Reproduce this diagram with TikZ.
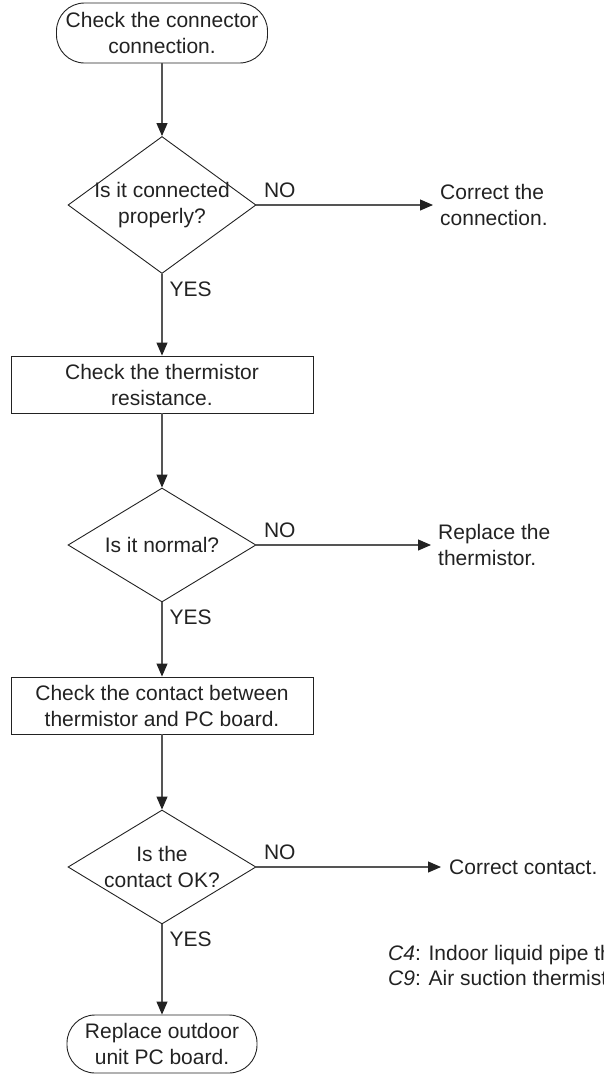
\documentclass[tikz,border=0pt]{standalone}
\usepackage{fontspec}
\setmainfont{Liberation Sans}
\usetikzlibrary{shapes.geometric,arrows.meta}
\definecolor{ink}{HTML}{222222}
\definecolor{wire}{HTML}{555555}

\begin{document}
\begin{tikzpicture}[x=1pt,y=1pt,
  font=\fontsize{21}{26}\selectfont, text=ink,
  terminal/.style={draw=ink, line width=0.9pt, rectangle, rounded corners=28pt, align=center, inner sep=0pt},
  process/.style={draw=ink, line width=0.9pt, rectangle, minimum width=302pt, minimum height=57pt, align=center, inner sep=0pt},
  decision/.style={draw=ink, line width=0.9pt, diamond, minimum width=188pt, inner sep=0pt},
  result/.style={anchor=west, align=left, inner xsep=7pt, inner ysep=0pt},
  flow/.style={draw=wire, line width=1.1pt, -{Triangle[length=13pt,width=11pt,color=ink]}},
  tag/.style={inner sep=0pt}]
\useasboundingbox (0,0) rectangle (604,-1074);
\clip (0,0) rectangle (604,-1074);

% Main column: (x, y) of each step
\node[terminal, minimum width=211pt, minimum height=60pt] (start) at (162,-33) {Check the connector\\connection.};
\node[decision, minimum height=137pt, label={[align=center, tag]center:Is it connected\\properly?}] (q1) at (162,-205) {};
\node[process] (chk1) at (162,-384.5) {Check the thermistor\\resistance.};
\node[decision, minimum height=114pt, label={[tag]center:Is it normal?}] (q2) at (162,-545) {};
\node[process] (chk2) at (162,-705.5) {Check the contact between\\thermistor and PC board.};
\node[decision, minimum height=114pt, label={[align=center, tag]center:Is the\\contact OK?}] (q3) at (162,-867) {};
\node[terminal, minimum width=190pt, minimum height=58pt] (finish) at (162,-1044) {Replace outdoor\\unit PC board.};

% Remedies on the right
\node[result] (fix1) at (433,-205) {Correct the\\connection.};
\node[result] (fix2) at (431,-545) {Replace the\\thermistor.};
\node[result, inner xsep=8pt] (fix3) at (441,-867) {Correct contact.};

% Notes
\node[tag, anchor=base west] (note1) at (388,-960) {\textit{C4}: Indoor liquid pipe thermistor};
\node[tag, anchor=base west] (note2) at (388,-985) {\textit{C9}: Air suction thermistor};

% Connectors
\draw[flow] (start) -- (q1);
\draw[flow] (chk1) -- (q2);
\draw[flow] (chk2) -- (q3);
\foreach \q/\r/\n in {q1/fix1/chk1, q2/fix2/chk2, q3/fix3/finish} {
  \draw[flow] (\q.east) -- (\r.west) node[at start, tag, anchor=south west, xshift=7pt, yshift=7pt] {NO};
  \draw[flow] (\q.south) -- (\n.north) node[at start, tag, anchor=north west, xshift=7pt, yshift=-7pt] {YES};
}
\end{tikzpicture}
\end{document}
